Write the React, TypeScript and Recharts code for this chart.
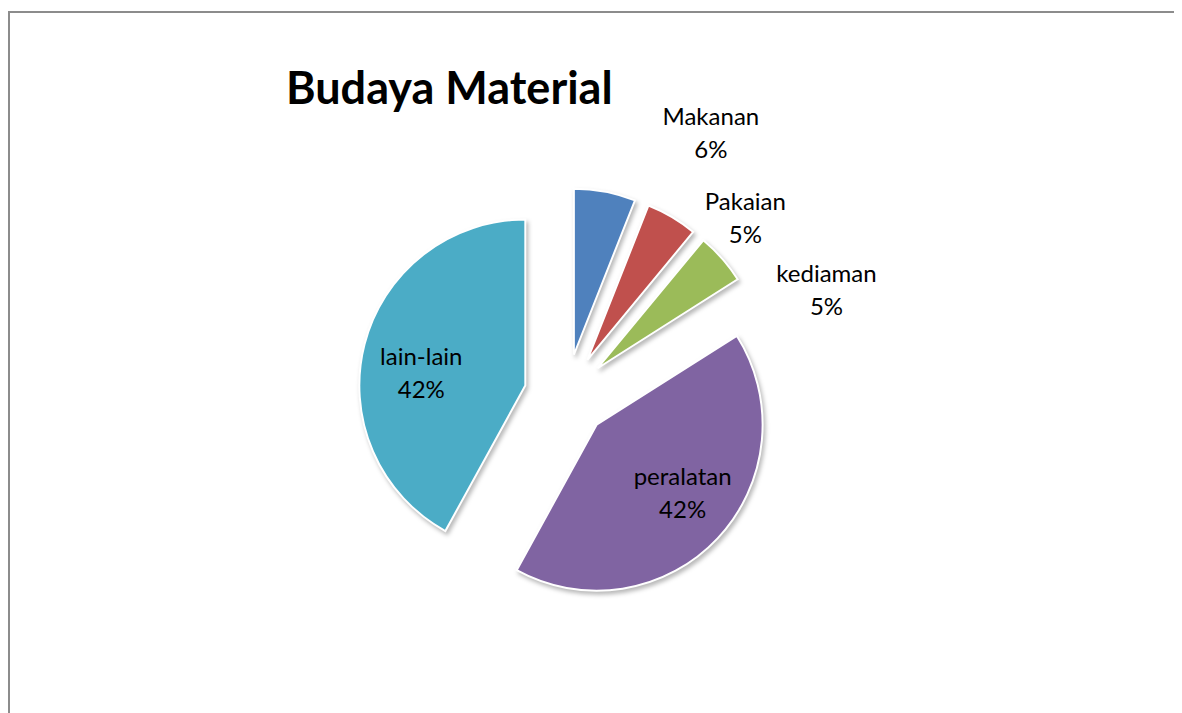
import { Cell, Pie, PieChart } from 'recharts'

const categories = ['Makanan', 'Pakaian', 'kediaman', 'peralatan', 'lain-lain']
const shares = [6, 5, 5, 42, 42]
const colors = ['#4F81BD', '#C0504D', '#9BBB59', '#8064A2', '#4BACC6']

const data = categories.map((name, i) => ({ name, value: shares[i] }))

const W = 1165
const H = 720
const CX = 551
const CY = 378
const R = 166
const EXPLODE = 42
const FONT = 'Lato, "Open Sans", sans-serif'

// where each data label sits, relative to its exploded slice's apex
const labelOffset: [number, number][] = [
  [137, -224],
  [158, -144],
  [229, -80],
  [86, 66],
  [-104, -15],
]

const total = shares.reduce((a, b) => a + b, 0)
const explodeShift = shares.map((v, i) => {
  const before = shares.slice(0, i).reduce((a, b) => a + b, 0)
  const mid = ((before + v / 2) / total) * 2 * Math.PI
  return { dx: Math.sin(mid) * EXPLODE, dy: -Math.cos(mid) * EXPLODE }
})

function makeLabel(own: number) {
  return (props: any) => {
    if (props.index !== own) return null
    const [ox, oy] = labelOffset[own]
    const x = props.cx + ox
    const y = props.cy + oy
    return (
      <text
        x={x}
        y={y - 16}
        textAnchor="middle"
        dominantBaseline="central"
        fill="#000"
        fontSize={24}
        fontFamily={FONT}
      >
        <tspan x={x}>{props.name}</tspan>
        <tspan x={x} dy={33}>
          {Math.round(props.percent * 100)}%
        </tspan>
      </text>
    )
  }
}

export default function App() {
  return (
    <div
      style={{
        position: 'relative',
        marginTop: 3,
        width: W,
        height: H,
        border: '2px solid #8c8c8c',
        background: '#fff',
      }}
    >
      <style>{`.recharts-pie-sector path { filter: drop-shadow(2px 3px 2px rgba(0,0,0,0.28)); }`}</style>
      <div
        style={{
          position: 'absolute',
          left: 276,
          top: 48,
          fontFamily: FONT,
          fontWeight: 700,
          fontSize: 45,
          lineHeight: '52px',
          color: '#000',
          whiteSpace: 'nowrap',
        }}
      >
        Budaya Material
      </div>
      <PieChart width={W} height={H}>
        {categories.map((_, own) => (
          <Pie
            key={own}
            data={data}
            dataKey="value"
            nameKey="name"
            cx={CX + explodeShift[own].dx}
            cy={CY + explodeShift[own].dy}
            outerRadius={R}
            startAngle={90}
            endAngle={-270}
            stroke="none"
            label={makeLabel(own)}
            labelLine={false}
            isAnimationActive={false}
          >
            {data.map((_, i) => (
              <Cell
                key={i}
                fill={i === own ? colors[i] : 'none'}
                stroke={i === own ? '#fff' : 'none'}
                strokeWidth={2}
              />
            ))}
          </Pie>
        ))}
      </PieChart>
    </div>
  )
}
